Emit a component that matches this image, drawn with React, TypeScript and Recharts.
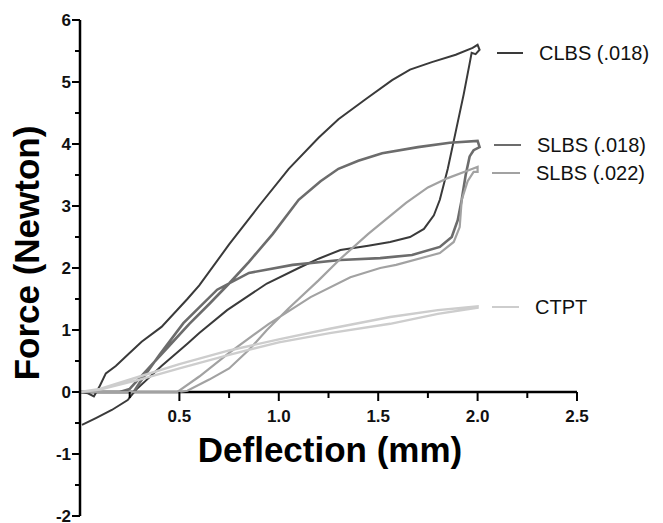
import React from 'react';
import { LineChart, Line, XAxis, YAxis, ReferenceLine, Customized } from 'recharts';

// ---- data ----
const clbsDeflection = [0, 0.04, 0.07, 0.1, 0.13, 0.18, 0.24, 0.31, 0.41, 0.54, 0.6, 0.75, 0.9, 1.05, 1.2, 1.3, 1.44, 1.57, 1.66, 1.77, 1.89, 1.975, 2.0, 2.01, 1.99, 1.97, 1.96, 1.93, 1.89, 1.85, 1.81, 1.78, 1.73, 1.66, 1.56, 1.45, 1.31, 1.2, 1.1, 0.94, 0.74, 0.6, 0.54, 0.41, 0.28, 0.24, 0.16, 0.08, 0.01];
const clbsForce = [0, -0.02, -0.07, 0.1, 0.3, 0.42, 0.6, 0.81, 1.05, 1.5, 1.72, 2.38, 3.0, 3.6, 4.1, 4.4, 4.73, 5.03, 5.2, 5.32, 5.44, 5.55, 5.6, 5.52, 5.45, 5.47, 5.3, 4.8, 4.2, 3.6, 3.1, 2.85, 2.63, 2.5, 2.42, 2.36, 2.29, 2.15, 2.0, 1.75, 1.32, 0.95, 0.78, 0.42, 0.03, -0.13, -0.29, -0.42, -0.53];

const slbs018Deflection = [0, 0.1, 0.2, 0.25, 0.35, 0.45, 0.55, 0.65, 0.75, 0.85, 0.97, 1.1, 1.21, 1.3, 1.4, 1.52, 1.7, 1.86, 2.0, 2.01, 1.98, 1.96, 1.94, 1.92, 1.9, 1.87, 1.81, 1.67, 1.51, 1.31, 1.07, 0.85, 0.69, 0.52, 0.4, 0.3, 0.27, 0.1, 0];
const slbs018Force = [0, 0, 0, 0.05, 0.4, 0.75, 1.1, 1.42, 1.75, 2.1, 2.55, 3.1, 3.4, 3.6, 3.73, 3.85, 3.95, 4.02, 4.05, 3.95, 3.9, 3.8, 3.5, 3.1, 2.77, 2.5, 2.34, 2.21, 2.16, 2.13, 2.05, 1.92, 1.65, 1.11, 0.6, 0.15, 0, 0, 0];

const slbs022Deflection = [0, 0.3, 0.5, 0.54, 0.65, 0.75, 0.85, 0.94, 1.05, 1.2, 1.31, 1.45, 1.64, 1.75, 1.85, 1.975, 2.0, 2.0, 1.98, 1.95, 1.92, 1.91, 1.88, 1.81, 1.59, 1.51, 1.36, 1.16, 0.95, 0.75, 0.6, 0.49, 0.3, 0];
const slbs022Force = [0, 0, 0, 0.02, 0.2, 0.38, 0.68, 1.0, 1.35, 1.8, 2.15, 2.55, 3.05, 3.3, 3.45, 3.6, 3.63, 3.55, 3.55, 3.4, 3.1, 2.66, 2.42, 2.24, 2.05, 2.0, 1.85, 1.53, 1.1, 0.63, 0.25, 0, 0, 0];

const ctptDeflection = [0, 0.1, 0.3, 0.5, 0.75, 1.0, 1.256, 1.56, 1.8, 2.0, 2.0, 1.8, 1.56, 1.256, 1.0, 0.75, 0.5, 0.3, 0.1, 0];
const ctptForce = [0, 0.05, 0.25, 0.45, 0.67, 0.85, 1.02, 1.21, 1.32, 1.38, 1.36, 1.26, 1.1, 0.95, 0.8, 0.6, 0.38, 0.2, 0.04, 0];

const seriesNames = ['CLBS', 'SLBS', 'SLBS', 'CTPT'];
const seriesGauges = ['(.018)', '(.018)', '(.022)', ''];
const seriesColors = ['#3a3a3a', '#6c6c6c', '#a2a2a2', '#cdcdcd'];
const seriesWidths = [2, 2.6, 2.2, 2.4];

const xTicks = [0.25, 0.5, 0.75, 1.0, 1.25, 1.5, 1.75, 2.0, 2.25, 2.5];
const yTicks = [-2, -1.5, -1, -0.5, 0, 0.5, 1, 1.5, 2, 2.5, 3, 3.5, 4, 4.5, 5, 5.5, 6];
const X_DOMAIN: [number, number] = [0, 2.5];
const Y_DOMAIN: [number, number] = [-2, 6];

const zip = (xs: number[], ys: number[]) => xs.map((x, i) => ({ x, y: ys[i] }));
const seriesData = [
  zip(clbsDeflection, clbsForce),
  zip(slbs018Deflection, slbs018Force),
  zip(slbs022Deflection, slbs022Force),
  zip(ctptDeflection, ctptForce),
];

// ---- layout ----
const W = 655;
const H = 515;
const X_AXIS_H = 7;
const M = { top: 12, right: 86, bottom: 0, left: 0 };
const Y_AXIS_W = 72;
const PLOT_H = H - M.top - M.bottom - X_AXIS_H;
const PLOT_LEFT = M.left + Y_AXIS_W;
const ZERO_Y = M.top + (PLOT_H * (Y_DOMAIN[1] - 0)) / (Y_DOMAIN[1] - Y_DOMAIN[0]);
const FONT = '"Liberation Sans", Arial, Helvetica, sans-serif';

const isMajor = (v: number, step: number) => Math.abs(v / step - Math.round(v / step)) < 1e-6;

const XTick = (props: any) => {
  const { x, payload } = props;
  const v = payload.value as number;
  const major = isMajor(v, 0.5);
  return (
    <g>
      <line x1={x} x2={x} y1={ZERO_Y} y2={ZERO_Y + (major ? 9 : 6)} stroke="#000" strokeWidth={2} />
      {major && (
        <text x={x} y={ZERO_Y + 30} textAnchor="middle" fontSize={17} fontWeight="bold" fill="#111" fontFamily={FONT}>
          {v.toFixed(1)}
        </text>
      )}
    </g>
  );
};

const YTick = (props: any) => {
  const { y, payload } = props;
  const v = payload.value as number;
  const major = isMajor(v, 1);
  return (
    <g>
      <line x1={PLOT_LEFT - (major ? 8 : 5)} x2={PLOT_LEFT} y1={y} y2={y} stroke="#000" strokeWidth={2} />
      {major && (
        <text x={PLOT_LEFT - 9} y={y} dy="0.34em" textAnchor="end" fontSize={17} fontWeight="bold" fill="#111" fontFamily={FONT}>
          {String(v)}
        </text>
      )}
    </g>
  );
};

const legendRows = [
  { y: 45, x1: 489, x2: 515, tx: 531 },
  { y: 137, x1: 486, x2: 513, tx: 529 },
  { y: 165, x1: 484, x2: 512, tx: 528 },
  { y: 299, x1: 484, x2: 511, tx: 527 },
];

const Decorations = () => (
  <g fontFamily={FONT}>
    <text x={322} y={454} textAnchor="middle" fontSize={35} fontWeight="bold" fill="#000">
      Deflection (mm)
    </text>
    <text x={31} y={245} textAnchor="middle" fontSize={35} fontWeight="bold" fill="#000" transform="rotate(-90 31 245)">
      Force (Newton)
    </text>
    {legendRows.map((r, i) => (
      <g key={i}>
        <line x1={r.x1} x2={r.x2} y1={r.y} y2={r.y} stroke={seriesColors[i]} strokeWidth={2} />
        <text x={r.tx} y={r.y} dy="0.36em" fontSize={20} fill="#111">
          {seriesNames[i]}
          {seriesGauges[i] ? ' ' + seriesGauges[i] : ''}
        </text>
      </g>
    ))}
  </g>
);

export default function App() {
  return (
    <div style={{ width: W, height: H, background: '#fff' }}>
      <LineChart width={W} height={H} margin={M} style={{ fontFamily: FONT }}>
        <XAxis
          type="number"
          dataKey="x"
          domain={X_DOMAIN}
          ticks={xTicks}
          interval={0}
          height={X_AXIS_H}
          axisLine={false}
          tickLine={false}
          tick={<XTick />}
          allowDataOverflow
        />
        <YAxis
          type="number"
          dataKey="y"
          domain={Y_DOMAIN}
          ticks={yTicks}
          interval={0}
          width={Y_AXIS_W}
          axisLine={{ stroke: '#000', strokeWidth: 2.5 }}
          tickLine={false}
          tick={<YTick />}
          allowDataOverflow
        />
        <ReferenceLine y={0} stroke="#000" strokeWidth={2.5} />
        {seriesData.map((d, i) => (
          <Line
            key={i}
            data={d}
            dataKey="y"
            type="linear"
            stroke={seriesColors[i]}
            strokeWidth={seriesWidths[i]}
            dot={false}
            activeDot={false}
            isAnimationActive={false}
          />
        ))}
        <Customized component={<Decorations />} />
      </LineChart>
    </div>
  );
}
